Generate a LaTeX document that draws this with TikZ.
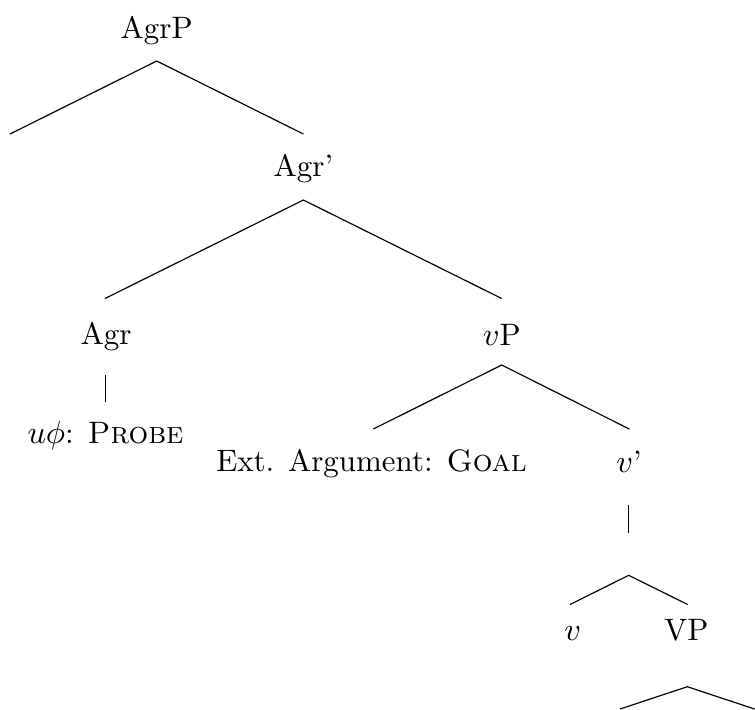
\documentclass[tikz,border=0pt]{standalone}
\begin{document}
\begin{tikzpicture}[x=0.339pt,y=-0.339pt,
  lbl/.style={inner sep=0pt,anchor=base,font=\fontsize{10.5}{12.6}\selectfont},
  edge/.style={draw=black,line width=0.4pt}]
\useasboundingbox (0,0) rectangle (755,709);
% labels
\node[lbl] (agrp) at (156.7,38) {AgrP};
\node[lbl] (agrbar) at (303.4,176.7) {Agr'};
\node[lbl] (agr) at (106,344) {Agr};
\node[lbl] (probe) at (105.5,443.3) {$u\phi$: \textsc{Probe}};
\node[lbl] (vp) at (501.7,345) {$v$P};
\node[lbl] (ext) at (371.5,471.5) {Ext. Argument: \textsc{Goal}};
\node[lbl] (vbar) at (629,472) {$v$'};
\node[lbl] (v) at (572.7,640) {$v$};
\node[lbl] (VP) at (686.3,640) {VP};
% branch points
\coordinate (a0) at (156.7,61);
\coordinate (a1) at (10,134);
\coordinate (a2) at (303.4,134);
\coordinate (b0) at (303.4,200);
\coordinate (b1) at (105,298.5);
\coordinate (b2) at (501.7,298.5);
\coordinate (c0) at (105.7,375);
\coordinate (c1) at (105.7,402);
\coordinate (d0) at (501.7,365);
\coordinate (d1) at (373.3,429);
\coordinate (d2) at (629.3,429);
\coordinate (e0) at (628.7,505);
\coordinate (e1) at (628.7,532.5);
\coordinate (f0) at (628.7,575.3);
\coordinate (f1) at (570,604.5);
\coordinate (f2) at (687.7,604.5);
\coordinate (g0) at (687.3,686.7);
\coordinate (g1) at (620,709);
\coordinate (g2) at (754.6,709);
% connectors
\draw[edge] (a1) -- (a0) -- (a2);
\draw[edge] (b1) -- (b0) -- (b2);
\draw[edge] (c0) -- (c1);
\draw[edge] (d1) -- (d0) -- (d2);
\draw[edge] (e0) -- (e1);
\draw[edge] (f1) -- (f0) -- (f2);
\draw[edge] (g1) -- (g0) -- (g2);
\end{tikzpicture}
\end{document}
